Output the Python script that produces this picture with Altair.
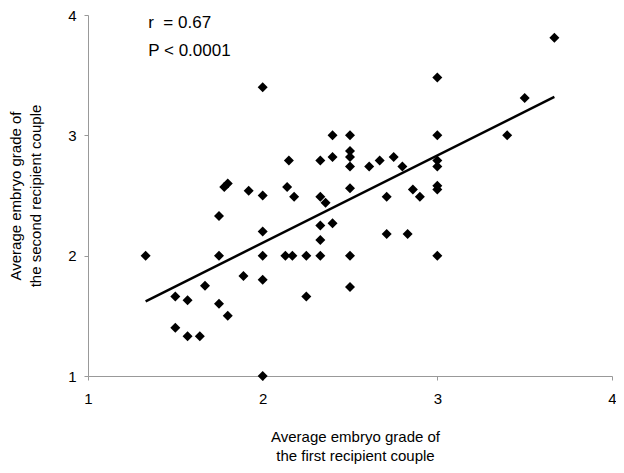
import altair as alt
import pandas as pd

# Average embryo grade of the first / second recipient couple
first_grade = [1.33, 1.50, 1.50, 1.57, 1.57, 1.64, 1.67, 1.75, 1.75, 1.75,
               1.80, 1.78, 1.80, 1.92, 1.89, 2.00, 2.00, 2.00, 2.00, 2.00,
               2.00, 2.13, 2.17, 2.14, 2.15, 2.18, 2.25, 2.25, 2.33, 2.33,
               2.33, 2.33, 2.36, 2.33, 2.40, 2.40, 2.40, 2.50, 2.50, 2.50,
               2.50, 2.50, 2.50, 2.50, 2.61, 2.67, 2.71, 2.71, 2.75, 2.80,
               2.86, 2.90, 2.83, 3.00, 3.00, 3.00, 3.00, 3.00, 3.00, 3.00,
               3.40, 3.50, 3.67]
second_grade = [2.00, 1.66, 1.40, 1.63, 1.33, 1.33, 1.75, 2.00, 2.33, 1.60,
                1.50, 2.57, 2.60, 2.54, 1.83, 2.50, 2.20, 2.00, 1.80, 1.00,
                3.40, 2.00, 2.00, 2.57, 2.79, 2.49, 2.00, 1.66, 2.00, 2.13,
                2.79, 2.49, 2.44, 2.25, 2.27, 3.00, 2.82, 3.00, 2.87, 2.82,
                2.74, 2.56, 2.00, 1.74, 2.74, 2.79, 2.49, 2.18, 2.82, 2.74,
                2.55, 2.49, 2.18, 3.00, 2.79, 2.74, 2.58, 2.55, 2.00, 3.48,
                3.00, 3.31, 3.81]

# Regression line end points
line_x = [1.33, 3.67]
line_y = [1.62, 3.32]

# Annotation
note_text = ["r\u00a0 = 0.67", "P < 0.0001"]
note_x = [1.345, 1.345]
note_y = [3.93, 3.70]

pts = pd.DataFrame({"x": first_grade, "y": second_grade})
reg = pd.DataFrame({"x": line_x, "y": line_y})
notes = pd.DataFrame({"t": note_text, "x": note_x, "y": note_y})

FONT = "Liberation Sans"

xscale = alt.Scale(domain=[1, 4], nice=False, zero=False)
yscale = alt.Scale(domain=[1, 4], nice=False, zero=False)

xaxis = alt.Axis(
    title=["Average embryo grade of", "the first recipient couple"],
    values=[1, 2, 3, 4], grid=False, format="d", labelFlush=False,
    domainColor="#999999", tickColor="#999999", tickSize=4,
    labelFontSize=15, labelFont=FONT, labelColor="black", labelPadding=11,
    titleFont=FONT, titleFontSize=15, titleFontWeight="normal", titleColor="black",
    titleBaseline="top", titleY=53, titleX=267, titleAlign="center", titleLineHeight=19,
)
yaxis = alt.Axis(
    title=["Average embryo grade of", "the second recipient couple"],
    values=[1, 2, 3, 4], grid=False, format="d", labelFlush=False,
    domainColor="#999999", tickColor="#999999", tickSize=4,
    labelFontSize=15, labelFont=FONT, labelColor="black", labelPadding=8,
    titleFont=FONT, titleFontSize=15, titleFontWeight="normal", titleColor="black",
    titleAngle=-90, titleBaseline="top", titleX=-80, titleY=180.5, titleAlign="center",
    titleLineHeight=20,
)

points = alt.Chart(pts).mark_point(
    shape="diamond", filled=True, color="black", size=100, opacity=1
).encode(
    x=alt.X("x:Q", scale=xscale, axis=xaxis),
    y=alt.Y("y:Q", scale=yscale, axis=yaxis),
)

line = alt.Chart(reg).mark_line(color="black", strokeWidth=2.5).encode(
    x=alt.X("x:Q", scale=xscale),
    y=alt.Y("y:Q", scale=yscale),
)

text = alt.Chart(notes).mark_text(
    align="left", baseline="middle", font=FONT, fontSize=17, color="black"
).encode(
    x=alt.X("x:Q", scale=xscale),
    y=alt.Y("y:Q", scale=yscale),
    text="t:N",
)

chart = alt.layer(line, points, text).properties(
    width=524, height=361,
    autosize=alt.AutoSizeParams(type="none"),
    padding={"left": 80, "top": 7, "right": 4, "bottom": 89},
    background="white",
).configure_view(stroke=None)

chart.save("out.html", embed_options={"renderer": "svg", "actions": False})
